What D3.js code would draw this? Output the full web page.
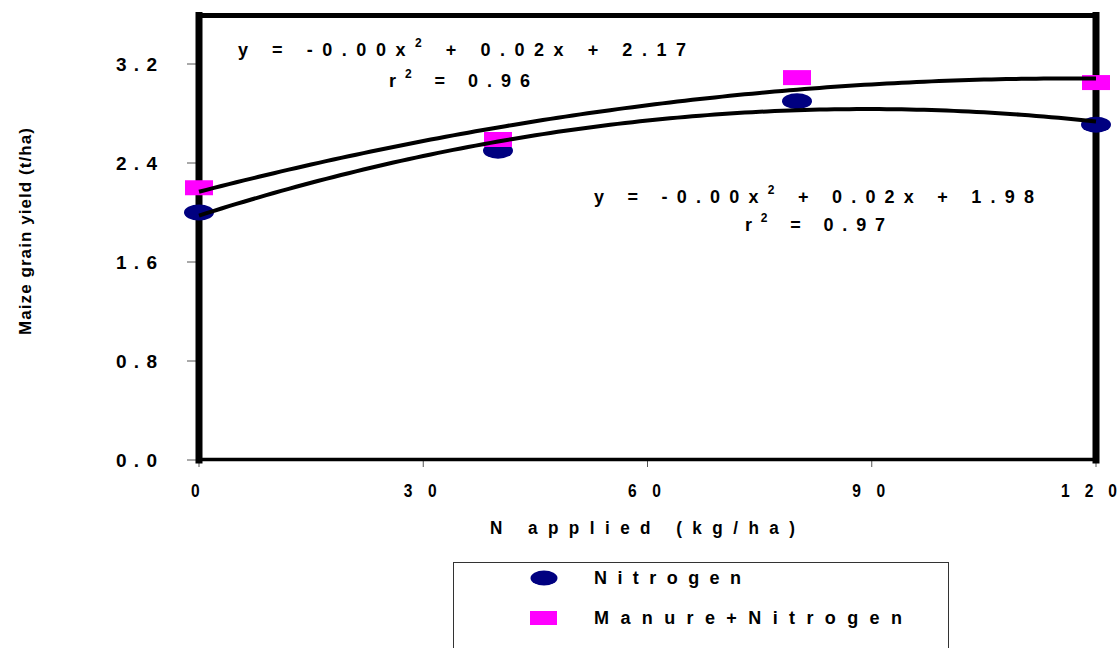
<!DOCTYPE html>
<html>
<head>
<meta charset="utf-8">
<script src="https://cdn.jsdelivr.net/npm/d3@7"></script>
<style>
  html, body { margin: 0; padding: 0; background: #fff; }
  svg { display: block; }
  text { font-family: "Liberation Sans", Arial, sans-serif; font-weight: bold; fill: #000; }
</style>
</head>
<body>
<svg id="chart" width="1120" height="648"></svg>
<script>
// Nitrogen rate (kg/ha) and maize grain yield (t/ha)
const nRates = [0, 40, 80, 120];
const yieldNitrogen = [2.00, 2.50, 2.90, 2.71];
const yieldManureN = [2.20, 2.59, 3.09, 3.05];
const xTicks = [0, 30, 60, 90, 120];
const yTicks = [0, 0.8, 1.6, 2.4, 3.2];
const seriesNames = ["Nitrogen", "Manure+Nitrogen"];
const eqManure = ["y = -0.00x", "2", " + 0.02x + 2.17"];
const r2Manure = ["r", "2", " = 0.96"];
const eqNitrogen = ["y = -0.00x", "2", " + 0.02x + 1.98"];
const r2Nitrogen = ["r", "2", " = 0.97"];

const svg = d3.select("#chart");
const x = d3.scaleLinear().domain([0, 120]).range([199, 1096]);
const y = d3.scaleLinear().domain([0, 3.6]).range([460, 14.5]);

// least-squares quadratic fit y = a + b x + c x^2
function quadFit(xs, ys) {
  const s = [0, 0, 0, 0, 0], t = [0, 0, 0];
  xs.forEach((xv, i) => {
    for (let k = 0; k < 5; k++) s[k] += Math.pow(xv, k);
    for (let k = 0; k < 3; k++) t[k] += ys[i] * Math.pow(xv, k);
  });
  const M = [[s[0], s[1], s[2], t[0]], [s[1], s[2], s[3], t[1]], [s[2], s[3], s[4], t[2]]];
  for (let i = 0; i < 3; i++) {
    for (let j = i + 1; j < 3; j++) {
      const f = M[j][i] / M[i][i];
      for (let k = i; k < 4; k++) M[j][k] -= f * M[i][k];
    }
  }
  const c = [0, 0, 0];
  for (let i = 2; i >= 0; i--) {
    let v = M[i][3];
    for (let k = i + 1; k < 3; k++) v -= M[i][k] * c[k];
    c[i] = v / M[i][i];
  }
  return xv => c[0] + c[1] * xv + c[2] * xv * xv;
}

// spaced-out text: one tspan per character, gaps given by dx so no
// trailing space is added after the last glyph.
// parts: array of [string, isSuperscript]
function spacedText(parent, parts, opts) {
  const t = parent.append("text")
    .attr("x", 0).attr("y", 0).attr("dy", "0.36em")
    .attr("font-size", opts.size);
  const spans = [];
  let raised = false;
  parts.forEach(([str, sup]) => {
    for (const ch of str) {
      const s = t.append("tspan").text(ch === " " ? "\u00a0" : ch);
      if (sup) s.attr("font-size", opts.supSize || opts.size * 0.65);
      if (sup && !raised) { s.attr("dy", -opts.size * 0.5); raised = true; }
      if (!sup && raised) { s.attr("dy", opts.size * 0.5); raised = false; }
      spans.push(s);
    }
  });
  const natural = t.node().getComputedTextLength();
  const cond = opts.cond || 1;
  const gap = (opts.width / cond - natural) / Math.max(1, spans.length - 1);
  spans.forEach((s, i) => { if (i > 0) s.attr("dx", gap); });
  let x0 = opts.x;
  if (opts.anchor === "middle") x0 = opts.x - opts.width / 2;
  if (opts.rotate) {
    t.attr("transform", `translate(${opts.cx},${x0}) rotate(-90)`).attr("x", -0);
  } else {
    t.attr("transform", `translate(${x0},${opts.y}) scale(${cond},1)`);
  }
  return t;
}

// axis ticks (outside the frame)
const gy = svg.append("g");
gy.selectAll("line").data(yTicks).join("line")
  .attr("x1", 187).attr("x2", 199)
  .attr("y1", d => y(d)).attr("y2", d => y(d))
  .attr("stroke", "#555").attr("stroke-width", 1);
yTicks.forEach(v => spacedText(gy, [[v.toFixed(1), false]], { size: 19, x: 116, y: y(v), width: 41 }));

const gx = svg.append("g");
gx.selectAll("line").data(xTicks).join("line")
  .attr("x1", d => x(d)).attr("x2", d => x(d))
  .attr("y1", 460).attr("y2", 467)
  .attr("stroke", "#555").attr("stroke-width", 1);
xTicks.forEach(v => {
  const str = String(v);
  const w = 10 + 23 * (str.length - 1);
  const cx = Math.min(x(v) - 3, 1117 - w / 2);
  spacedText(gx, [[str, false]], { size: 19, cond: 0.82, x: cx, y: 490, width: w, anchor: "middle" });
});

// axis titles
spacedText(svg, [["N applied (kg/ha)", false]], { size: 19, cond: 0.9, x: 490, y: 527, width: 305 });
const yTitle = svg.append("text")
  .attr("transform", "translate(25,335) rotate(-90)")
  .attr("dy", "0.36em")
  .attr("font-size", 17)
  .text("Maize grain yield (t/ha)");
yTitle.attr("letter-spacing", (207 - yTitle.node().getComputedTextLength()) / 23);

// plot frame
const frame = svg.append("g").attr("stroke", "#000").attr("stroke-linecap", "square");
frame.append("line").attr("x1", x(0)).attr("x2", x(120)).attr("y1", 15.5).attr("y2", 15.5).attr("stroke-width", 5);
frame.append("line").attr("x1", x(0)).attr("x2", x(0)).attr("y1", 15.5).attr("y2", 460).attr("stroke-width", 7);
frame.append("line").attr("x1", x(120)).attr("x2", x(120)).attr("y1", 15.5).attr("y2", 460).attr("stroke-width", 7);
frame.append("line").attr("x1", x(0)).attr("x2", x(120)).attr("y1", 459.5).attr("y2", 459.5).attr("stroke-width", 3.5);

// markers
svg.append("g").selectAll("ellipse").data(nRates).join("ellipse")
  .attr("cx", d => x(d)).attr("cy", (d, i) => y(yieldNitrogen[i]))
  .attr("rx", 15).attr("ry", 8).attr("fill", "#000080");
svg.append("g").selectAll("rect").data(nRates).join("rect")
  .attr("x", d => x(d) - 14).attr("y", (d, i) => y(yieldManureN[i]) - 7.5)
  .attr("width", 28).attr("height", 15).attr("fill", "#ff00ff");

// fitted quadratic trend lines
const line = d3.line().x(d => x(d[0])).y(d => y(d[1]));
[yieldManureN, yieldNitrogen].forEach(vals => {
  const f = quadFit(nRates, vals);
  const pts = d3.range(0, 120.5, 1).map(v => [v, f(v)]);
  svg.append("path").attr("d", line(pts))
    .attr("fill", "none").attr("stroke", "#000").attr("stroke-width", 4);
});

// regression equations
const eqParts = p => [[p[0], false], [p[1], true], [p[2], false]];
spacedText(svg, eqParts(eqManure), { size: 18, supSize: 12, x: 238, y: 50, width: 448 });
spacedText(svg, eqParts(r2Manure), { size: 18, supSize: 12, x: 389, y: 81, width: 141 });
spacedText(svg, eqParts(eqNitrogen), { size: 18, supSize: 12, x: 594, y: 197, width: 440 });
spacedText(svg, eqParts(r2Nitrogen), { size: 18, supSize: 12, x: 745, y: 225, width: 140 });

// legend
const lg = svg.append("g");
lg.append("rect").attr("x", 453.5).attr("y", 562.5).attr("width", 495).attr("height", 100)
  .attr("fill", "#fff").attr("stroke", "#333").attr("stroke-width", 1);
lg.append("ellipse").attr("cx", 544).attr("cy", 578).attr("rx", 13.5).attr("ry", 7.5).attr("fill", "#000080");
lg.append("rect").attr("x", 530).attr("y", 611).attr("width", 27).attr("height", 14).attr("fill", "#ff00ff");
const legendWidths = [147, 308];
seriesNames.forEach((name, i) => {
  spacedText(lg, [[name, false]], { size: 18, x: 594, y: 578 + 40 * i, width: legendWidths[i] });
});
</script>
</body>
</html>
